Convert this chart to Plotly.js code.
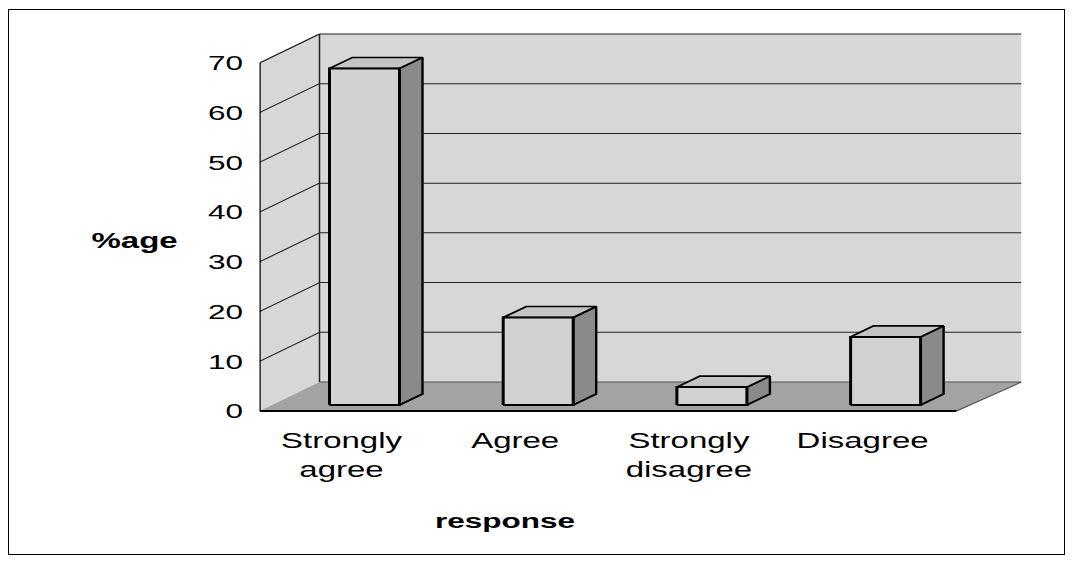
<!DOCTYPE html>
<html>
<head>
<meta charset="utf-8">
<script src="https://cdn.plot.ly/plotly-3.0.1.min.js"></script>
<style>
  html, body { margin: 0; padding: 0; background: #fff; overflow: hidden; }
  #wrap { position: relative; width: 1073px; height: 565px; }
  #plot { position: absolute; left: 0; top: 0; width: 715px; height: 565px;
          transform: scaleX(1.5); transform-origin: 0 0; }
  #frame { position: absolute; left: 8px; top: 9px; width: 1057px; height: 546px;
           box-sizing: border-box; border: 1.5px solid #000; pointer-events: none; }
</style>
</head>
<body>
<div id="wrap">
  <div id="plot"></div>
  <div id="frame"></div>
</div>
<script>
// ---- data ----
const categories = ["Strongly agree", "Agree", "Strongly disagree", "Disagree"];
const tickLabels = ["Strongly<br>agree", "Agree", "Strongly<br>disagree", "Disagree"];
const values = [67.7, 17.6, 3.6, 13.7];
const yTicks = [0, 10, 20, 30, 40, 50, 60, 70];
const yTitle = "%age";
const xTitle = "response";

// ---- geometry (pseudo 3-D, oblique projection) ----
const S = 1.5;                 // horizontal stretch of the picture
const PXU = 348 / 70;          // pixels per value unit
const X0 = 260, X1 = 1022;     // x range (target pixels)
const DX = 60, DY = 29 / PXU;  // full depth offset
const FLOOR_RIGHT = 957;
const BAR_X0 = 365, BAR_STEP = 173.7, BAR_HALF = 35;
const BAR_DX = 23, BAR_DY = 11 / PXU, BAR_BASE = 6 / PXU;
const LABEL_SHIFT = -23;
const yMax = yTicks[yTicks.length - 1];

const WALL = "#d7d7d7", FLOOR = "#a3a3a3", FRONT = "#d2d2d2", SIDE = "#8a8a8a", TOP = "#c4c4c4";

function poly(xs, ys, fill, lw, lc) {
  return { type: "scatter", mode: "lines", x: xs.concat([xs[0]]), y: ys.concat([ys[0]]),
           fill: "toself", fillcolor: fill, line: { color: lc || "#000", width: lw || 0 },
           hoverinfo: "skip", showlegend: false };
}
function lines(segs, color, width, dash) {
  const x = [], y = [];
  segs.forEach(s => { x.push(s[0], s[2], null); y.push(s[1], s[3], null); });
  return { type: "scatter", mode: "lines", x, y, line: { color, width, dash: dash || "solid" },
           hoverinfo: "skip", showlegend: false };
}

const traces = [];
// left wall
traces.push(poly([X0, X0, X0 + DX, X0 + DX], [0, yMax, yMax + DY, DY], WALL, 0));
// back wall
traces.push(poly([X0 + DX, X1, X1, X0 + DX], [DY, DY, yMax + DY, yMax + DY], WALL, 0));
// floor
traces.push(poly([X0, FLOOR_RIGHT, X1, X0 + DX], [0, 0, DY, DY], FLOOR, 0));

// gridlines
const grid = [];
yTicks.slice(1).forEach(v => {
  grid.push([X0, v, X0 + DX, v + DY]);
  grid.push([X0 + DX, v + DY, X1, v + DY]);
});
traces.push(lines(grid, "#222", 1));
// wall edges
traces.push(lines([[X0 + DX, DY, X0 + DX, yMax + DY]], "#222", 1));
traces.push(lines([[X0 + DX, DY, X1, DY], [FLOOR_RIGHT, 0, X1, DY]], "#555", 1));
// front axis & floor front edge
traces.push(lines([[X0, 0, X0, yMax]], "#000", 1.6));
traces.push(lines([[X0, 0, FLOOR_RIGHT, 0]], "#000", 2));

// bars
const tickVals = [];
values.forEach((v, i) => {
  const xc = BAR_X0 + i * BAR_STEP;
  tickVals.push(xc + LABEL_SHIFT);
  const xl = xc - BAR_HALF, xr = xc + BAR_HALF;
  const b = BAR_BASE, t = BAR_BASE + v;
  // side
  traces.push(poly([xr, xr + BAR_DX, xr + BAR_DX, xr], [b, b + BAR_DY, t + BAR_DY, t], SIDE, 1.6));
  // top
  traces.push(poly([xl, xr, xr + BAR_DX, xl + BAR_DX], [t, t, t + BAR_DY, t + BAR_DY], TOP, 1.6));
  // front
  const f = poly([xl, xr, xr, xl], [b, b, t, t], FRONT, 2);
  f.name = categories[i];
  traces.push(f);
});

const font = "Liberation Sans, Arial, sans-serif";
const layout = {
  width: 715, height: 565,
  margin: { l: 173, r: 34, t: 33, b: 152, pad: 0 },
  paper_bgcolor: "rgba(0,0,0,0)", plot_bgcolor: "rgba(0,0,0,0)",
  showlegend: false,
  xaxis: {
    range: [X0, X1], showgrid: false, zeroline: false, showline: false,
    tickmode: "array", tickvals: tickVals, ticktext: tickLabels,
    ticks: "", ticklabelstandoff: 12,
    tickfont: { family: font, size: 22, color: "#000" }, fixedrange: true
  },
  yaxis: {
    range: [-2 / PXU, (411 - 33) / PXU], showgrid: false, zeroline: false, showline: false,
    tickmode: "array", tickvals: yTicks, ticktext: yTicks.map(String),
    ticks: "", ticklabelstandoff: 10,
    tickfont: { family: font, size: 21, color: "#000" }, fixedrange: true
  },
  annotations: [
    { text: yTitle, xref: "paper", yref: "paper", x: (134 - X0) / (X1 - X0), y: (413 - 240) / 380,
      xanchor: "center", yanchor: "middle", showarrow: false,
      font: { family: font, size: 22, color: "#000", weight: "bold" } },
    { text: xTitle, xref: "paper", yref: "paper", x: (505 - X0) / (X1 - X0), y: (413 - 520) / 380,
      xanchor: "center", yanchor: "middle", showarrow: false,
      font: { family: font, size: 21, color: "#000", weight: "bold" } }
  ]
};

Plotly.newPlot("plot", traces, layout, { displayModeBar: false, staticPlot: true });
</script>
</body>
</html>
